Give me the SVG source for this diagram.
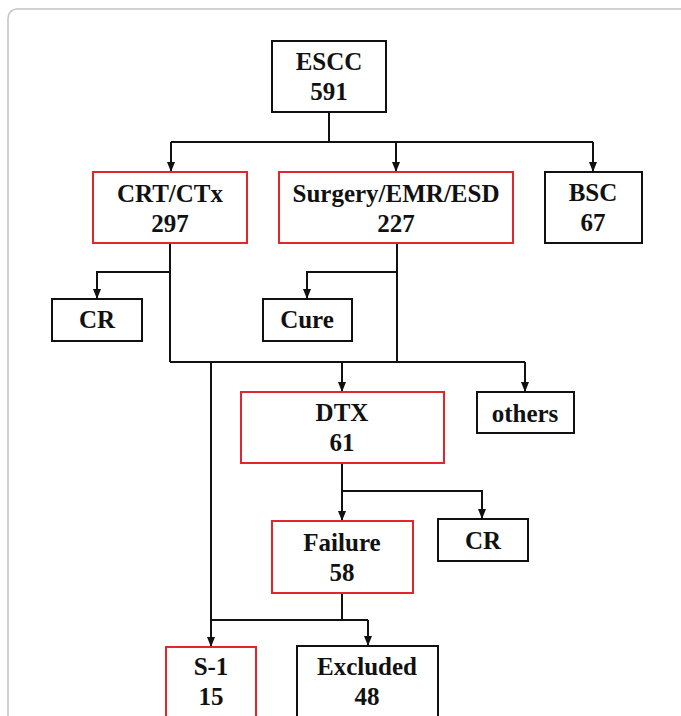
<svg xmlns="http://www.w3.org/2000/svg" width="681" height="716" viewBox="0 0 681 716">
<style>
.frame{fill:#fff;stroke:#c4c4c4;stroke-width:1.5}
.box{fill:#fff;stroke:#111;stroke-width:2}
.red{fill:#fff;stroke:#e3262b;stroke-width:2}
.t{font-family:"Liberation Serif","Times New Roman",serif;font-weight:bold;font-size:25px;fill:#111;text-anchor:middle}
.c{fill:none;stroke:#111;stroke-width:2}
</style>
<defs>
<marker id="ah" viewBox="0 0 10 8" refX="10" refY="4" markerWidth="10" markerHeight="8" markerUnits="userSpaceOnUse" orient="auto">
<path d="M0,0 L10,4 L0,8 z" fill="#111"/>
</marker>
</defs>
<rect width="681" height="716" fill="#fff"/>
<rect class="frame" x="8" y="9" width="700" height="740" rx="9"/>
<g id="connectors">
<path class="c" d="M329,112 V142 M171,142 H593"/>
<path class="c" d="M171,142 V172" marker-end="url(#ah)"/>
<path class="c" d="M396,142 V172" marker-end="url(#ah)"/>
<path class="c" d="M593,142 V172" marker-end="url(#ah)"/>
<path class="c" d="M170,243 V362 M397,243 V362 M170,362 H525"/>
<path class="c" d="M170,272 H97 V299" marker-end="url(#ah)"/>
<path class="c" d="M397,272 H307 V299" marker-end="url(#ah)"/>
<path class="c" d="M525,362 V392" marker-end="url(#ah)"/>
<path class="c" d="M342,362 V392" marker-end="url(#ah)"/>
<path class="c" d="M211,362 V647" marker-end="url(#ah)"/>
<path class="c" d="M342,463 V521" marker-end="url(#ah)"/>
<path class="c" d="M342,491 H482 V519" marker-end="url(#ah)"/>
<path class="c" d="M342,593 V620 M211,620 H368"/>
<path class="c" d="M368,620 V646" marker-end="url(#ah)"/>
</g>
<g id="escc"><rect class="box" x="272" y="41" width="114" height="71"/><text class="t" x="329" y="70">ESCC</text><text class="t" x="329" y="100">591</text></g>
<g id="crt"><rect class="red" x="93" y="172" width="154" height="71"/><text class="t" x="170" y="202">CRT/CTx</text><text class="t" x="170" y="232">297</text></g>
<g id="surgery"><rect class="red" x="279" y="172" width="234" height="71"/><text class="t" x="396" y="202">Surgery/EMR/ESD</text><text class="t" x="396" y="232">227</text></g>
<g id="bsc"><rect class="box" x="545" y="172" width="97" height="71"/><text class="t" x="593" y="201">BSC</text><text class="t" x="593" y="231">67</text></g>
<g id="cr1"><rect class="box" x="52" y="299" width="90" height="42"/><text class="t" x="97" y="328">CR</text></g>
<g id="cure"><rect class="box" x="263" y="299" width="89" height="42"/><text class="t" x="307" y="328">Cure</text></g>
<g id="dtx"><rect class="red" x="241" y="392" width="203" height="71"/><text class="t" x="342" y="421">DTX</text><text class="t" x="342" y="451">61</text></g>
<g id="others"><rect class="box" x="477" y="392" width="97" height="41"/><text class="t" x="525" y="422">others</text></g>
<g id="failure"><rect class="red" x="272" y="521" width="141" height="72"/><text class="t" x="342" y="551">Failure</text><text class="t" x="342" y="581">58</text></g>
<g id="cr2"><rect class="box" x="438" y="519" width="90" height="42"/><text class="t" x="483" y="549">CR</text></g>
<g id="s1"><rect class="red" x="166" y="647" width="90" height="90"/><text class="t" x="211" y="675">S-1</text><text class="t" x="211" y="705">15</text></g>
<g id="excluded"><rect class="box" x="297" y="646" width="141" height="90"/><text class="t" x="367" y="675">Excluded</text><text class="t" x="367" y="705">48</text></g>
</svg>
